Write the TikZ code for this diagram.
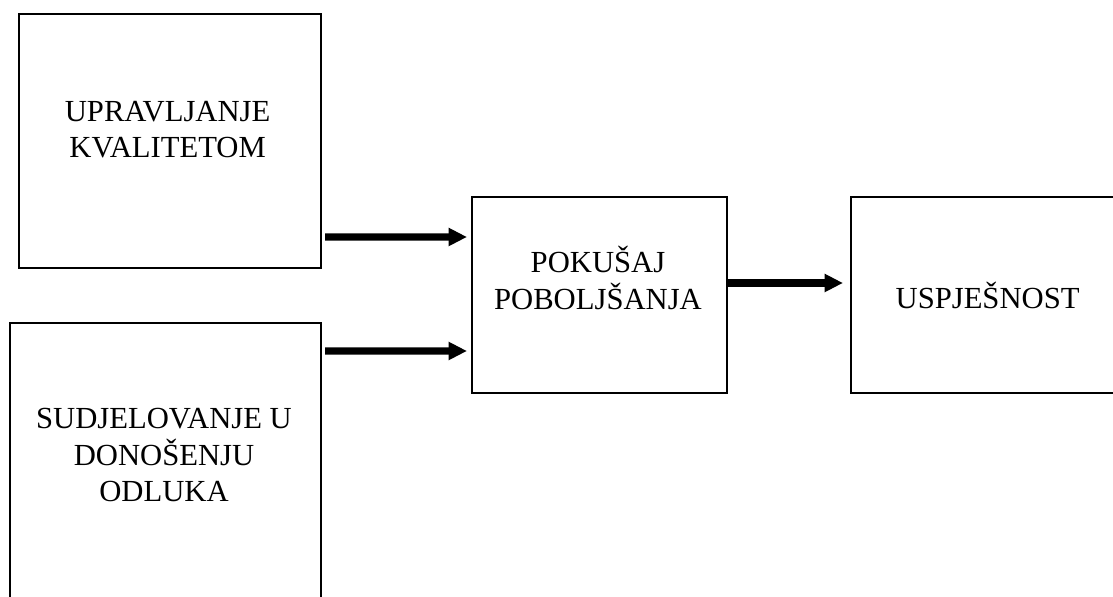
\documentclass[tikz,border=0pt]{standalone}
\usepackage{fontspec}
\setmainfont{Liberation Serif}
\usetikzlibrary{arrows.meta}

\begin{document}
\begin{tikzpicture}[box/.style={draw, line width=1pt, inner sep=0pt, outer sep=0pt},
  txt/.style={align=center, inner sep=0pt, font=\fontsize{21.8}{26}\selectfont},
  flow/.style={-{Triangle[length=0.46cm, width=0.43cm]}, line width=5pt}]
\useasboundingbox (0, 0) rectangle (27.825, 14.925);

\node[box, minimum width=7.55cm, minimum height=6.35cm] (uprav) at (4.25, 11.4) {};
\node[box, minimum width=7.775cm, minimum height=7.175cm] (sudj) at (4.1375, 3.2625) {};
\node[box, minimum width=6.375cm, minimum height=4.9cm] (pokusaj) at (14.9875, 7.55) {};
\node[box, minimum width=6.725cm, minimum height=4.9cm] (uspjeh) at (24.6375, 7.55) {};

\node[txt] (uprav-t) at (4.19, 11.69) {UPRAVLJANJE\\KVALITETOM};
\node[txt] (sudj-t) at (4.1, 3.54) {SUDJELOVANJE U\\DONOŠENJU\\ODLUKA};
\node[txt] (pokusaj-t) at (14.95, 7.98) {POKUŠAJ\\POBOLJŠANJA};
\node[txt] (uspjeh-t) at (24.69, 7.55) {USPJEŠNOST};

\draw[flow, shorten <=0.1cm, shorten >=0.125cm] ([yshift=-2.4cm]uprav.east) -- ([yshift=1.45cm]pokusaj.west);
\draw[flow, shorten <=0.1cm, shorten >=0.125cm] ([yshift=2.8875cm]sudj.east) -- ([yshift=-1.4cm]pokusaj.west);
\draw[flow, shorten >=0.2cm] ([yshift=0.3cm]pokusaj.east) -- ([yshift=0.3cm]uspjeh.west);
\end{tikzpicture}
\end{document}
